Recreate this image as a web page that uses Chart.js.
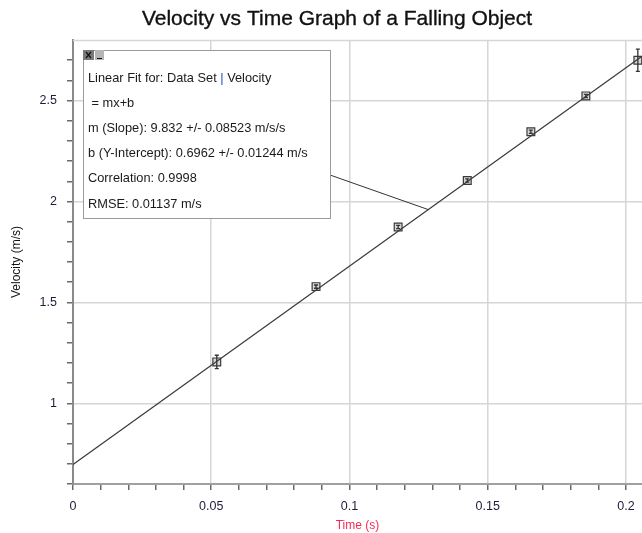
<!DOCTYPE html>
<html>
<head>
<meta charset="utf-8">
<script src="https://cdn.jsdelivr.net/npm/chart.js@4.4.1/dist/chart.umd.min.js"></script>
<style>
  html, body { margin: 0; padding: 0; background: #ffffff; }
  #wrap { width: 642px; height: 533px; position: relative; }
</style>
</head>
<body>
<div id="wrap"><canvas id="c" width="642" height="533"></canvas></div>
<script>
// ---- data ----
const timeValues     = [0.0520, 0.0879, 0.1176, 0.1426, 0.1656, 0.1855, 0.2043];
const velocityValues = [1.205, 1.578, 1.873, 2.104, 2.345, 2.523, 2.700];
const velocityErrors = [0.033, 0.008, 0.008, 0.008, 0.008, 0.008, 0.055];

const fitSlope     = 9.832;
const fitIntercept = 0.6962;
const fitRange     = [0, 0.2058];
const fitAnnotX    = 0.1285;

const xMajorTicks  = [0, 0.05, 0.1, 0.15, 0.2];
const xTickLabels  = ['0', '0.05', '0.1', '0.15', '0.2'];
const xMinorStep   = 0.01;
const yMajorTicks  = [1, 1.5, 2, 2.5];
const yTickLabels  = ['1', '1.5', '2', '2.5'];
const yMinorStep   = 0.1;

const chartTitle   = 'Velocity vs Time Graph of a Falling Object';
const xAxisTitle   = 'Time (s)';
const yAxisTitle   = 'Velocity (m/s)';
const fitBoxLines  = [
  ['Linear Fit for: Data Set ', '|', ' Velocity'],
  [' = mx+b'],
  ['m (Slope): 9.832 +/- 0.08523 m/s/s'],
  ['b (Y-Intercept): 0.6962 +/- 0.01244 m/s'],
  ['Correlation: 0.9998'],
  ['RMSE: 0.01137 m/s']
];

// ---- helpers ----
const FONT = '"Liberation Sans", Arial, Helvetica, sans-serif';
const near = (a, b) => Math.abs(a - b) < 1e-6;
function buildTicks(min, max, step) {
  const out = [];
  const n = Math.round((max - min) / step);
  for (let i = 0; i <= n; i++) out.push(+(min + i * step).toFixed(4));
  return out;
}
function labelFor(v, majors, labels) {
  const i = majors.findIndex(m => near(m, v));
  return i >= 0 ? labels[i] : '';
}

const fitData = fitRange.map(x => ({ x: x, y: fitIntercept + fitSlope * x }));
const points  = timeValues.map((t, i) => ({ x: t, y: velocityValues[i] }));

const decorPlugin = {
  id: 'decor',
  beforeDatasetsDraw(chart) {
    const { ctx, chartArea } = chart;
    ctx.save();
    ctx.strokeStyle = '#d6d6d6';
    ctx.lineWidth = 1.5;
    ctx.beginPath();
    ctx.moveTo(chartArea.left, chartArea.top + 0.5);
    ctx.lineTo(chartArea.right, chartArea.top + 0.5);
    ctx.stroke();
    ctx.restore();
  },
  afterDatasetsDraw(chart) {
    const { ctx } = chart;
    const xs = chart.scales.x, ys = chart.scales.y;
    ctx.save();
    ctx.strokeStyle = '#333';
    ctx.lineWidth = 1.3;
    timeValues.forEach((t, i) => {
      const px = xs.getPixelForValue(t);
      const y1 = ys.getPixelForValue(velocityValues[i] + velocityErrors[i]);
      const y2 = ys.getPixelForValue(velocityValues[i] - velocityErrors[i]);
      ctx.beginPath();
      ctx.moveTo(px - 2, y1); ctx.lineTo(px + 2, y1);
      ctx.moveTo(px, y1); ctx.lineTo(px, y2);
      ctx.moveTo(px - 2, y2); ctx.lineTo(px + 2, y2);
      ctx.stroke();
    });
    ctx.restore();
  },
  afterDraw(chart) {
    const { ctx } = chart;
    const xs = chart.scales.x, ys = chart.scales.y;
    ctx.save();
    // title
    ctx.fillStyle = '#111';
    ctx.strokeStyle = '#111';
    ctx.lineWidth = 0.35;
    ctx.font = '21px ' + FONT;
    ctx.textAlign = 'center';
    ctx.textBaseline = 'middle';
    ctx.fillText(chartTitle, 337, 19);
    ctx.strokeText(chartTitle, 337, 19);
    // y axis title
    ctx.save();
    ctx.translate(17, 262);
    ctx.rotate(-Math.PI / 2);
    ctx.font = '12px ' + FONT;
    ctx.fillStyle = '#111';
    ctx.fillText(yAxisTitle, 0, 0);
    ctx.restore();

    // connector line from fit box to fit line
    const bx = 83, by = 50, bw = 247, bh = 168;
    const ex = xs.getPixelForValue(fitAnnotX);
    const ey = ys.getPixelForValue(fitIntercept + fitSlope * fitAnnotX);
    ctx.strokeStyle = '#333';
    ctx.lineWidth = 1;
    ctx.beginPath();
    ctx.moveTo(bx + bw, 175);
    ctx.lineTo(ex, ey);
    ctx.stroke();

    // fit box
    ctx.fillStyle = '#ffffff';
    ctx.fillRect(bx, by, bw, bh);
    ctx.strokeStyle = '#9a9a9a';
    ctx.lineWidth = 1;
    ctx.strokeRect(bx + 0.5, by + 0.5, bw, bh);
    // window icons
    ctx.fillStyle = '#7a7a7a';
    ctx.fillRect(bx, by, 11, 10);
    ctx.fillStyle = '#b5b5b5';
    ctx.fillRect(bx + 12, by, 9, 10);
    ctx.strokeStyle = '#111';
    ctx.lineWidth = 1.2;
    ctx.beginPath();
    ctx.moveTo(bx + 3, by + 2); ctx.lineTo(bx + 8, by + 8);
    ctx.moveTo(bx + 8, by + 2); ctx.lineTo(bx + 3, by + 8);
    ctx.moveTo(bx + 14, by + 8.5); ctx.lineTo(bx + 19, by + 8.5);
    ctx.stroke();
    // text
    ctx.font = '12.8px ' + FONT;
    ctx.textAlign = 'left';
    ctx.textBaseline = 'middle';
    fitBoxLines.forEach((parts, i) => {
      let x = 88;
      const y = 78 + i * 25.2;
      parts.forEach(p => {
        ctx.fillStyle = (p === '|') ? '#2050c0' : '#1a1a1a';
        ctx.fillText(p, x, y);
        x += ctx.measureText(p).width;
      });
    });
    ctx.restore();
  }
};

new Chart(document.getElementById('c'), {
  type: 'scatter',
  data: {
    datasets: [
      {
        type: 'line',
        label: 'Linear Fit',
        data: fitData,
        borderColor: '#3a3a3a',
        borderWidth: 1.2,
        pointRadius: 0,
        fill: false,
        tension: 0
      },
      {
        label: 'Velocity',
        data: points,
        pointStyle: 'rect',
        pointRadius: 5.5,
        pointBackgroundColor: '#d8d8d8',
        pointBorderColor: '#3a3a3a',
        pointBorderWidth: 1.2,
        showLine: false
      }
    ]
  },
  options: {
    responsive: false,
    animation: false,
    layout: { autoPadding: false, padding: { top: 40, left: 0, right: 0, bottom: 0 } },
    plugins: {
      legend: { display: false },
      tooltip: { enabled: false },
      title: { display: false }
    },
    scales: {
      x: {
        type: 'linear',
        min: fitRange[0],
        max: fitRange[1],
        afterBuildTicks(scale) {
          scale.ticks = buildTicks(0, 0.2, xMinorStep).map(v => ({ value: v }));
        },
        afterFit(scale) { scale.height = 49; scale.paddingRight = 0; scale.paddingLeft = 0; },
        ticks: {
          autoSkip: false,
          maxRotation: 0,
          padding: 9,
          color: '#1c1c3c',
          font: { family: FONT, size: 12.5 },
          callback: v => labelFor(v, xMajorTicks, xTickLabels)
        },
        grid: {
          color: c => (c.tick && xMajorTicks.some(m => near(m, c.tick.value))) ? '#d6d6d6' : 'rgba(0,0,0,0)',
          lineWidth: 1.5,
          tickColor: '#6a6a6a',
          tickLength: 6,
          drawTicks: true
        },
        border: { display: true, color: '#a0a0a0', width: 2 },
        title: {
          display: true,
          text: xAxisTitle,
          color: '#f52a55',
          font: { family: FONT, size: 12 },
          padding: { top: 0, bottom: 0 }
        }
      },
      y: {
        type: 'linear',
        min: 0.6,
        max: 2.8,
        afterBuildTicks(scale) {
          scale.ticks = buildTicks(0.6, 2.7, yMinorStep).map(v => ({ value: v }));
        },
        afterFit(scale) { scale.width = 73; scale.paddingTop = 0; scale.paddingBottom = 0; },
        ticks: {
          autoSkip: false,
          padding: 10,
          color: '#1c1c3c',
          font: { family: FONT, size: 12.5 },
          callback: v => labelFor(v, yMajorTicks, yTickLabels)
        },
        grid: {
          color: c => (c.tick && yMajorTicks.some(m => near(m, c.tick.value))) ? '#d6d6d6' : 'rgba(0,0,0,0)',
          lineWidth: 1.5,
          tickColor: '#6a6a6a',
          tickLength: 6,
          drawTicks: true
        },
        border: { display: true, color: '#8a8a8a', width: 2 },
        title: { display: false }
      }
    }
  },
  plugins: [decorPlugin]
});
</script>
</body>
</html>
